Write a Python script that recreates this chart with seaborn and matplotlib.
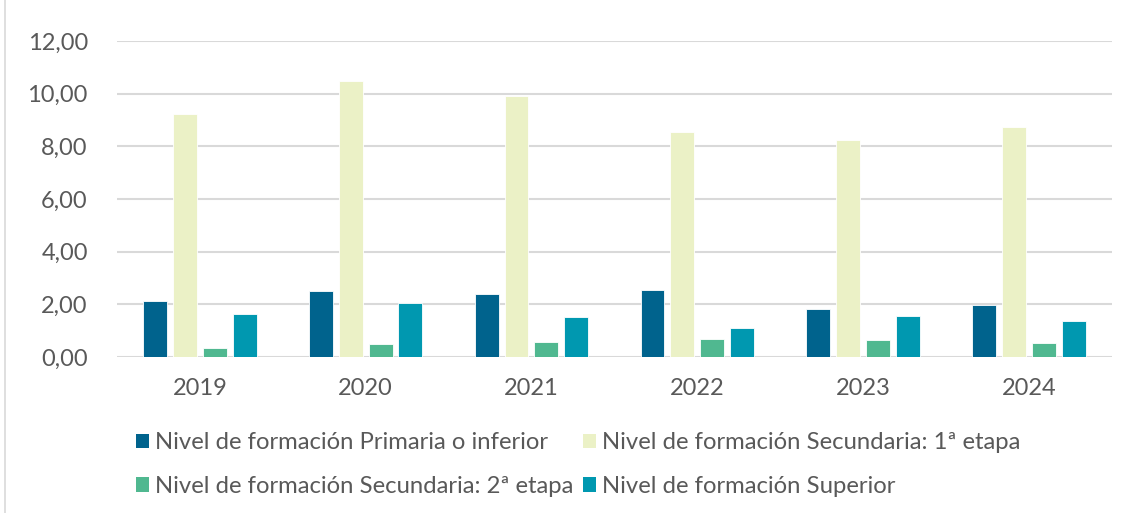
import matplotlib
matplotlib.use("Agg")
import matplotlib.pyplot as plt
import seaborn as sns
import pandas as pd
from matplotlib.ticker import FuncFormatter, MultipleLocator
from matplotlib.patches import Rectangle

years = ["2019", "2020", "2021", "2022", "2023", "2024"]
series_names = [
    "Nivel de formación Primaria o inferior",
    "Nivel de formación Secundaria: 1ª etapa",
    "Nivel de formación Secundaria: 2ª etapa",
    "Nivel de formación Superior",
]
primaria = [2.13, 2.51, 2.39, 2.55, 1.84, 1.98]
secundaria1 = [9.24, 10.50, 9.93, 8.55, 8.25, 8.73]
secundaria2 = [0.34, 0.50, 0.58, 0.68, 0.66, 0.52]
superior = [1.65, 2.05, 1.53, 1.10, 1.57, 1.38]
colors = ["#00638D", "#EBF1C6", "#50B890", "#0098B0"]

rows = []
for name, vals in zip(series_names, [primaria, secundaria1, secundaria2, superior]):
    for y, v in zip(years, vals):
        rows.append({"Año": y, "Serie": name, "Valor": v})
df = pd.DataFrame(rows)

sns.set_theme(style="white")
plt.rcParams["font.family"] = ["Lato", "DejaVu Sans"]

fig = plt.figure(figsize=(11.31, 5.13), dpi=100)
ax = fig.add_axes([0.1034, 0.304, 0.8796, 0.616])

sns.barplot(data=df, x="Año", y="Valor", hue="Serie", hue_order=series_names,
            palette=colors, saturation=1, width=0.72, gap=0.2, ax=ax, legend=False,
            edgecolor="white", linewidth=0.6, errorbar=None, zorder=3)

ax.set_ylim(0, 12)
ax.yaxis.set_major_locator(MultipleLocator(2))
ax.yaxis.set_major_formatter(FuncFormatter(lambda v, p: f"{v:.2f}".replace(".", ",")))
ax.grid(axis="y", color="#D9D9D9", linewidth=1.5, zorder=0)
ax.set_axisbelow(True)
for s in ax.spines.values():
    s.set_visible(False)
ax.set_xlabel("")
ax.set_ylabel("")
ax.tick_params(axis="both", length=0, labelsize=17, labelcolor="#595959")
ax.tick_params(axis="y", pad=21)
ax.tick_params(axis="x", pad=15)

handles = [Rectangle((0, 0), 1, 1, facecolor=c, edgecolor="none") for c in colors]
order = [0, 2, 1, 3]
fig.legend([handles[i] for i in order], [series_names[i] for i in order],
           loc="center", bbox_to_anchor=(0.511, 0.0945),
           ncol=2, frameon=False, fontsize=17.2, labelcolor="#595959",
           handlelength=0.55, handleheight=0.55, handletextpad=0.25,
           columnspacing=0.4, labelspacing=0.95)

fig.add_artist(Rectangle((0.004, -0.01), 1.2, 1.2, transform=fig.transFigure,
                         fill=False, edgecolor="#D9D9D9", linewidth=1.2))

fig.savefig("out.png", dpi=100)
